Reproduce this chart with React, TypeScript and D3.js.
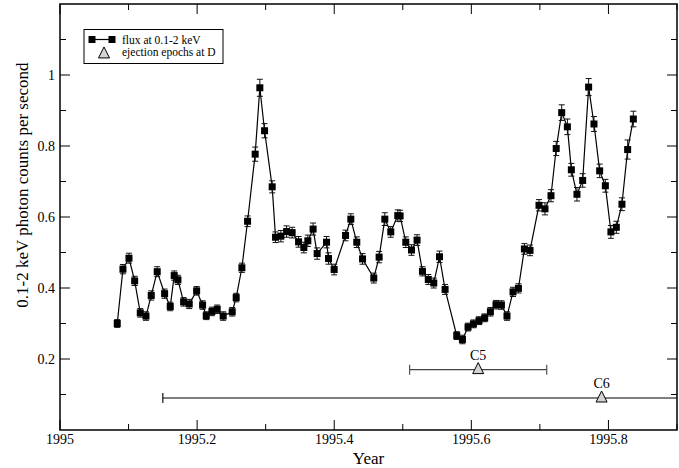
import React from "react";
import * as d3 from "d3";

// observation epochs (decimal year)
const years = [
  1995.0835, 1995.0918, 1995.1006, 1995.1089, 1995.1171, 1995.1254, 1995.1331, 1995.1418, 1995.1526, 1995.1608,
  1995.1666, 1995.172, 1995.1803, 1995.1885, 1995.1993, 1995.208, 1995.2133, 1995.2216, 1995.2293, 1995.238,
  1995.2512, 1995.257, 1995.2653, 1995.2736, 1995.2847, 1995.2915, 1995.2984, 1995.3095, 1995.3144, 1995.3222,
  1995.3305, 1995.3386, 1995.348, 1995.3557, 1995.3615, 1995.3692, 1995.3751, 1995.3888, 1995.3917, 1995.3999,
  1995.4165, 1995.4242, 1995.4329, 1995.4413, 1995.4577, 1995.4655, 1995.4738, 1995.4825, 1995.4927, 1995.4961,
  1995.5044, 1995.5127, 1995.5208, 1995.5287, 1995.5372, 1995.5452, 1995.5536, 1995.5617, 1995.5787, 1995.587,
  1995.5952, 1995.6031, 1995.6112, 1995.6195, 1995.6278, 1995.636, 1995.6439, 1995.652, 1995.6608, 1995.6687,
  1995.6774, 1995.6856, 1995.6987, 1995.7074, 1995.7162, 1995.7238, 1995.7318, 1995.7401, 1995.7459, 1995.7541,
  1995.7624, 1995.7711, 1995.7789, 1995.7872, 1995.7955, 1995.8036, 1995.8115, 1995.8197, 1995.828, 1995.8363,
];

// counts per second, 0.1-2 keV
const flux = [
  0.3, 0.453, 0.484, 0.42, 0.33, 0.321, 0.379, 0.446, 0.384, 0.348,
  0.435, 0.423, 0.361, 0.355, 0.392, 0.352, 0.322, 0.334, 0.34, 0.321,
  0.333, 0.373, 0.457, 0.588, 0.777, 0.964, 0.843, 0.685, 0.543, 0.546,
  0.559, 0.556, 0.53, 0.514, 0.533, 0.566, 0.497, 0.529, 0.483, 0.452,
  0.548, 0.594, 0.529, 0.482, 0.428, 0.487, 0.594, 0.558, 0.604, 0.603,
  0.529, 0.507, 0.535, 0.447, 0.424, 0.414, 0.488, 0.396, 0.266, 0.255,
  0.29, 0.299, 0.308, 0.316, 0.333, 0.353, 0.352, 0.321, 0.389, 0.399,
  0.51, 0.506, 0.633, 0.623, 0.66, 0.793, 0.894, 0.854, 0.733, 0.664,
  0.703, 0.966, 0.862, 0.73, 0.688, 0.558, 0.571, 0.636, 0.79, 0.876,
];

const fluxErr = [
  0.011, 0.013, 0.014, 0.013, 0.012, 0.012, 0.013, 0.014, 0.013, 0.012,
  0.013, 0.013, 0.012, 0.013, 0.012, 0.012, 0.011, 0.012, 0.012, 0.012,
  0.012, 0.012, 0.013, 0.015, 0.02, 0.024, 0.02, 0.017, 0.015, 0.016,
  0.016, 0.015, 0.015, 0.015, 0.016, 0.017, 0.016, 0.016, 0.016, 0.015,
  0.015, 0.015, 0.015, 0.015, 0.014, 0.016, 0.018, 0.015, 0.016, 0.016,
  0.015, 0.015, 0.015, 0.013, 0.014, 0.014, 0.016, 0.014, 0.011, 0.012,
  0.011, 0.011, 0.011, 0.011, 0.012, 0.012, 0.012, 0.012, 0.013, 0.013,
  0.015, 0.015, 0.016, 0.017, 0.017, 0.02, 0.022, 0.022, 0.018, 0.019,
  0.019, 0.024, 0.021, 0.019, 0.018, 0.018, 0.017, 0.018, 0.027, 0.022,
];

// ejection epochs of components at D
const epochNames = ["C5", "C6"];
const epochYears = [1995.61, 1995.79];
const epochErr = [0.1, 0.64];
const epochLevel = [0.17, 0.09];

const xTicks = [1995, 1995.2, 1995.4, 1995.6, 1995.8];
const xMinor = [1995.1, 1995.3, 1995.5, 1995.7, 1995.9];
const yTicks = [0.2, 0.4, 0.6, 0.8, 1];
const yMinor = [0.1, 0.3, 0.5, 0.7, 0.9, 1.1];

const W = 679;
const H = 468;
const m = { left: 60, right: 2, top: 4, bottom: 38 };
const font = "'Liberation Serif', 'Times New Roman', serif";

export default function App() {
  const x = d3.scaleLinear().domain([1995, 1995.9]).range([m.left, W - m.right]);
  const y = d3.scaleLinear().domain([0, 1.2]).range([H - m.bottom, m.top]);
  const x0 = x.range()[0], x1 = x.range()[1];
  const y0 = y.range()[0], y1 = y.range()[1];

  const line = d3
    .line<number>()
    .x((_, i) => x(years[i]))
    .y((d) => y(d));

  const tri = (cx: number, cy: number, s: number) =>
    `M${cx},${cy - s * 0.55}L${cx + s / 2},${cy + s * 0.45}L${cx - s / 2},${cy + s * 0.45}Z`;

  const cap = 3;
  const sq = 7;

  return (
    <svg width={W} height={H} style={{ position: "absolute", left: 0, top: 0, background: "#fff" }}>
      <defs>
        <clipPath id="plot">
          <rect x={x0} y={y1} width={x1 - x0} height={y0 - y1} />
        </clipPath>
      </defs>

      {/* ejection epochs */}
      <g clipPath="url(#plot)">
        {epochYears.map((t, i) => {
          const cy = y(epochLevel[i]);
          const a = x(t - epochErr[i]);
          const b = x(t + epochErr[i]);
          const col = i === 0 ? "#444" : "#000";
          return (
            <g key={i}>
              <line x1={a} x2={b} y1={cy} y2={cy} stroke={col} strokeWidth={1.1} />
              <line x1={a} x2={a} y1={cy - 5} y2={cy + 5} stroke={col} strokeWidth={1.1} />
              <line x1={b} x2={b} y1={cy - 5} y2={cy + 5} stroke={col} strokeWidth={1.1} />
            </g>
          );
        })}
      </g>
      {epochYears.map((t, i) => {
        const cx = x(t);
        const cy = y(epochLevel[i]);
        return (
          <g key={"e" + i}>
            <path d={tri(cx, cy - 1, 11)} fill="#d3d3d3" stroke="#000" strokeWidth={1} />
            <text x={cx} y={cy - 10} textAnchor="middle" fontFamily={font} fontSize={14}>
              {epochNames[i]}
            </text>
          </g>
        );
      })}

      {/* flux light curve */}
      <path d={line(flux) || ""} fill="none" stroke="#000" strokeWidth={1.2} />
      {flux.map((v, i) => {
        const cx = x(years[i]);
        const top = y(v + fluxErr[i]);
        const bot = y(v - fluxErr[i]);
        return (
          <g key={"p" + i} stroke="#111" strokeWidth={1}>
            <line x1={cx} x2={cx} y1={top} y2={bot} />
            <line x1={cx - cap} x2={cx + cap} y1={top} y2={top} />
            <line x1={cx - cap} x2={cx + cap} y1={bot} y2={bot} />
            <rect x={cx - sq / 2} y={y(v) - sq / 2} width={sq} height={sq} fill="#000" stroke="none" />
          </g>
        );
      })}

      {/* frame and ticks */}
      <rect x={x0} y={y1} width={x1 - x0} height={y0 - y1} fill="none" stroke="#000" strokeWidth={1.5} />
      <g stroke="#000" strokeWidth={1}>
        {xTicks.map((t) => (
          <g key={"xt" + t}>
            <line x1={x(t)} x2={x(t)} y1={y0} y2={y0 - 10} />
            <line x1={x(t)} x2={x(t)} y1={y1} y2={y1 + 10} />
          </g>
        ))}
        {xMinor.map((t) => (
          <g key={"xm" + t}>
            <line x1={x(t)} x2={x(t)} y1={y0} y2={y0 - 6} />
            <line x1={x(t)} x2={x(t)} y1={y1} y2={y1 + 6} />
          </g>
        ))}
        {yTicks.map((t) => (
          <g key={"yt" + t}>
            <line x1={x0} x2={x0 + 10} y1={y(t)} y2={y(t)} />
            <line x1={x1} x2={x1 - 10} y1={y(t)} y2={y(t)} />
          </g>
        ))}
        {yMinor.map((t) => (
          <g key={"ym" + t}>
            <line x1={x0} x2={x0 + 6} y1={y(t)} y2={y(t)} />
            <line x1={x1} x2={x1 - 6} y1={y(t)} y2={y(t)} />
          </g>
        ))}
      </g>
      <g fontFamily={font} fontSize={14} fill="#000">
        {xTicks.map((t) => (
          <text key={"xl" + t} x={x(t)} y={y0 + 14} textAnchor="middle">
            {d3.format("")(t)}
          </text>
        ))}
        {yTicks.map((t) => (
          <text key={"yl" + t} x={x0 - 5} y={y(t) + 5} textAnchor="end">
            {d3.format("")(t)}
          </text>
        ))}
      </g>
      <text x={(x0 + x1) / 2} y={H - 4} textAnchor="middle" fontFamily={font} fontSize={17}>
        Year
      </text>
      <text
        transform={`translate(28,${y(0.69)}) rotate(-90)`}
        textAnchor="middle"
        fontFamily={font}
        fontSize={17}
      >
        0.1-2 keV photon counts per second
      </text>

      {/* legend */}
      <g>
        <rect x={84} y={29.5} width={139} height={34} fill="#fff" stroke="#000" strokeWidth={1} />
        <line x1={92} x2={112} y1={39.5} y2={39.5} stroke="#000" strokeWidth={1.2} />
        <rect x={92 - sq / 2} y={39.5 - sq / 2} width={sq} height={sq} fill="#000" />
        <rect x={112 - sq / 2} y={39.5 - sq / 2} width={sq} height={sq} fill="#000" />
        <path d={tri(104, 53, 11)} fill="#d3d3d3" stroke="#000" strokeWidth={1} />
        <text x={122} y={43.5} fontFamily={font} fontSize={11.5}>
          flux at 0.1-2 keV
        </text>
        <text x={122} y={56} fontFamily={font} fontSize={11.5}>
          ejection epochs at D
        </text>
      </g>
    </svg>
  );
}
